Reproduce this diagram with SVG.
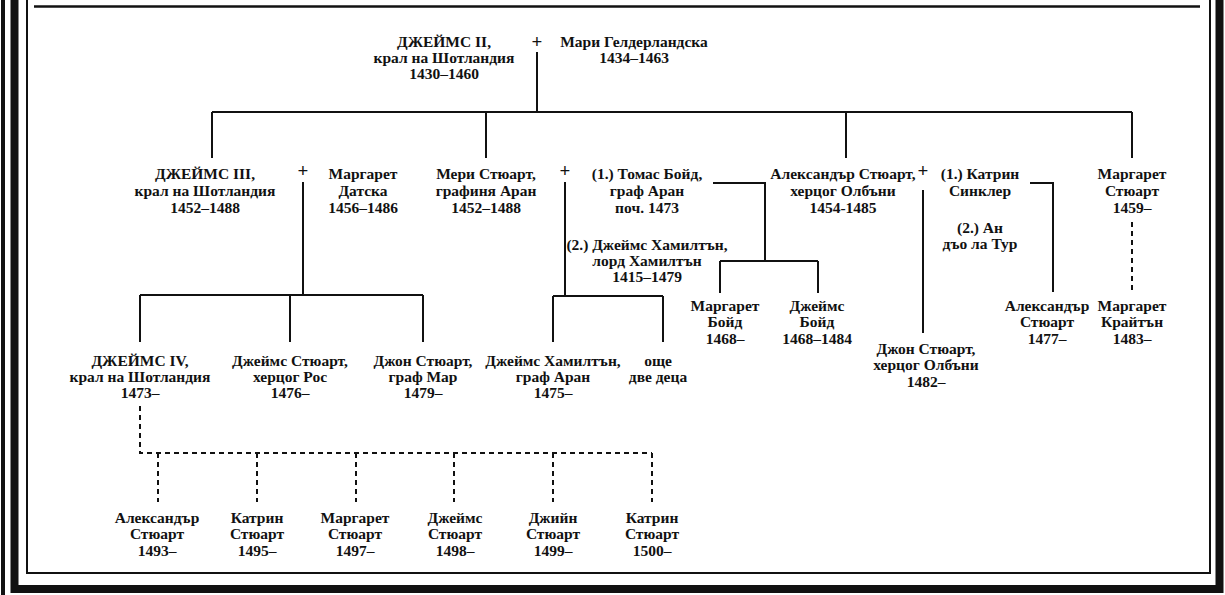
<svg xmlns="http://www.w3.org/2000/svg" width="1225" height="595" viewBox="0 0 1225 595">
<style>
.t{font-family:"Liberation Serif","DejaVu Serif",serif;font-size:15.5px;font-weight:bold;text-anchor:middle;fill:#111}
.p{font-family:"Liberation Serif","DejaVu Serif",serif;font-size:19px;font-weight:bold;text-anchor:middle;fill:#111}
.c{fill:none;stroke:#111;stroke-width:2}
.d{fill:none;stroke:#111;stroke-width:2;stroke-dasharray:5 4}
.f{fill:none;stroke:#111}
</style>
<rect width="1225" height="595" fill="#fff"/>
<g id="frame">
<line class="f" x1="3" y1="0" x2="3" y2="595" stroke-width="4" stroke="#333"/>
<path class="f" d="M14.5,0 V589 H1219.5 V0" stroke-width="8"/>
<path class="f" d="M27,0 V573 H1210 V0" stroke-width="2"/>
<line class="f" x1="34" y1="6.5" x2="1200" y2="6.5" stroke-width="2.5"/>
</g>
<g id="connectors">
<path class="c" d="M537,52 V112 M212,112 H1132 M212,112 V158 M486,112 V158 M846,112 V158 M1132,112 V158"/>
<path class="c" d="M303,182 V295 M140,295 H423 M140,295 V342 M290,295 V342 M423,295 V342"/>
<path class="c" d="M565,182 V296 M553,296 H663 M553,296 V342 M663,296 V342"/>
<path class="c" d="M713,183 H765 V261 M720,261 H818 M720,261 V293 M818,261 V293"/>
<path class="c" d="M923,190 V333"/>
<path class="c" d="M1030,183 H1053 V292"/>
<path class="d" d="M1132,222 V292"/>
<path class="d" d="M140,406 V453 H652"/>
<path class="d" d="M158,453 V502 M257,453 V502 M356,453 V502 M454,453 V502 M553,453 V502 M652,453 V502"/>
</g>
<g id="plus-signs">
<text class="p" x="537" y="48">+</text>
<text class="p" x="303" y="177">+</text>
<text class="p" x="565" y="177">+</text>
<text class="p" x="923" y="177">+</text>
</g>
<g id="james2"><text class="t" x="444" y="47">ДЖЕЙМС II,</text><text class="t" x="444" y="63">крал на Шотландия</text><text class="t" x="444" y="79">1430–1460</text></g>
<g id="marie"><text class="t" x="634" y="47">Мари Гелдерландска</text><text class="t" x="634" y="63">1434–1463</text></g>
<g id="james3"><text class="t" x="205" y="179">ДЖЕЙМС III,</text><text class="t" x="205" y="196">крал на Шотландия</text><text class="t" x="205" y="213">1452–1488</text></g>
<g id="margaret-denmark"><text class="t" x="363" y="179">Маргарет</text><text class="t" x="363" y="196">Датска</text><text class="t" x="363" y="213">1456–1486</text></g>
<g id="mary"><text class="t" x="486" y="179">Мери Стюарт,</text><text class="t" x="486" y="196">графиня Аран</text><text class="t" x="486" y="213">1452–1488</text></g>
<g id="thomas-boyd"><text class="t" x="647" y="179">(1.) Томас Бойд,</text><text class="t" x="647" y="196">граф  Аран</text><text class="t" x="647" y="213">поч. 1473</text></g>
<g id="james-hamilton-lord"><text class="t" x="647" y="250">(2.) Джеймс Хамилтън,</text><text class="t" x="647" y="266">лорд Хамилтън</text><text class="t" x="647" y="282">1415–1479</text></g>
<g id="alexander-albany"><text class="t" x="843" y="179">Александър Стюарт,</text><text class="t" x="843" y="196">херцог Олбъни</text><text class="t" x="843" y="213">1454-1485</text></g>
<g id="catherine-sinclair"><text class="t" x="980" y="179">(1.) Катрин</text><text class="t" x="980" y="196">Синклер</text></g>
<g id="anne"><text class="t" x="980" y="233">(2.) Ан</text><text class="t" x="980" y="249">дъо ла Тур</text></g>
<g id="margaret-1459"><text class="t" x="1132" y="179">Маргарет</text><text class="t" x="1132" y="196">Стюарт</text><text class="t" x="1132" y="213">1459–</text></g>
<g id="margaret-boyd"><text class="t" x="725" y="311">Маргарет</text><text class="t" x="725" y="327">Бойд</text><text class="t" x="725" y="344">1468–</text></g>
<g id="james-boyd"><text class="t" x="817" y="311">Джеймс</text><text class="t" x="817" y="327">Бойд</text><text class="t" x="817" y="344">1468–1484</text></g>
<g id="alexander-1477"><text class="t" x="1047" y="311">Александър</text><text class="t" x="1047" y="327">Стюарт</text><text class="t" x="1047" y="344">1477–</text></g>
<g id="margaret-crichton"><text class="t" x="1132" y="311">Маргарет</text><text class="t" x="1132" y="327">Крайтън</text><text class="t" x="1132" y="344">1483–</text></g>
<g id="john-albany"><text class="t" x="926" y="354">Джон Стюарт,</text><text class="t" x="926" y="370">херцог Олбъни</text><text class="t" x="926" y="387">1482–</text></g>
<g id="james4"><text class="t" x="140" y="366">ДЖЕЙМС IV,</text><text class="t" x="140" y="382">крал на Шотландия</text><text class="t" x="140" y="398">1473–</text></g>
<g id="james-ross"><text class="t" x="290" y="366">Джеймс Стюарт,</text><text class="t" x="290" y="382">херцог Рос</text><text class="t" x="290" y="398">1476–</text></g>
<g id="john-mar"><text class="t" x="423" y="366">Джон Стюарт,</text><text class="t" x="423" y="382">граф Мар</text><text class="t" x="423" y="398">1479–</text></g>
<g id="james-hamilton-arran"><text class="t" x="553" y="366">Джеймс Хамилтън,</text><text class="t" x="553" y="382">граф Аран</text><text class="t" x="553" y="398">1475–</text></g>
<g id="two-more"><text class="t" x="658" y="366">още</text><text class="t" x="658" y="382">две деца</text></g>
<g id="alexander-1493"><text class="t" x="157" y="523">Александър</text><text class="t" x="157" y="539">Стюарт</text><text class="t" x="157" y="556">1493–</text></g>
<g id="catherine-1495"><text class="t" x="257" y="523">Катрин</text><text class="t" x="257" y="539">Стюарт</text><text class="t" x="257" y="556">1495–</text></g>
<g id="margaret-1497"><text class="t" x="355" y="523">Маргарет</text><text class="t" x="355" y="539">Стюарт</text><text class="t" x="355" y="556">1497–</text></g>
<g id="james-1498"><text class="t" x="455" y="523">Джеймс</text><text class="t" x="455" y="539">Стюарт</text><text class="t" x="455" y="556">1498–</text></g>
<g id="jean-1499"><text class="t" x="553" y="523">Джийн</text><text class="t" x="553" y="539">Стюарт</text><text class="t" x="553" y="556">1499–</text></g>
<g id="catherine-1500"><text class="t" x="652" y="523">Катрин</text><text class="t" x="652" y="539">Стюарт</text><text class="t" x="652" y="556">1500–</text></g>
</svg>
